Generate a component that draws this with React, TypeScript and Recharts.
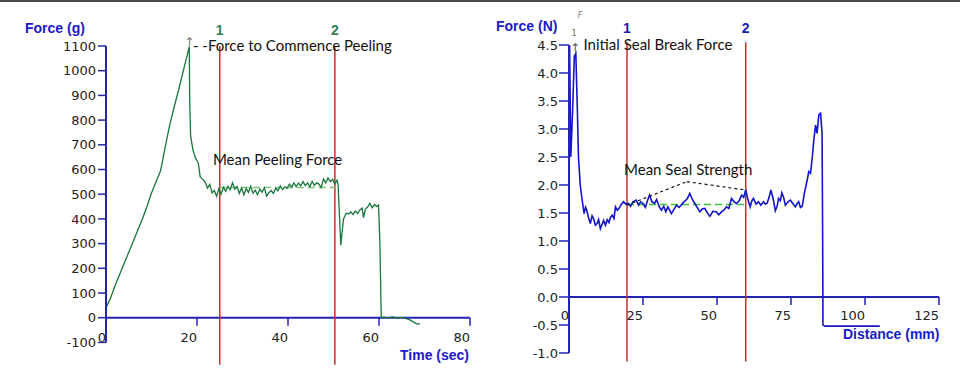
import React from 'react';
import {Line, LineChart, ReferenceDot, ReferenceLine, XAxis, YAxis} from 'recharts';

// left panel: peel test, force (g) over time (sec)
const leftTime = [
  0, 1, 2, 3, 4, 5, 6, 7, 8, 9,
  10, 11, 12, 13, 14, 15, 16, 17, 17.6, 18.3,
  18.4, 18.6, 19.1, 19.6, 20.3, 20.7, 21.3, 21.8, 22.3, 22.8,
  23.3, 23.8, 24.3, 24.8, 25.3, 25.8, 26.3, 26.8, 27.3, 27.8,
  28.3, 28.8, 29.3, 29.8, 30.3, 30.8, 31.3, 31.8, 32.3, 32.8,
  33.3, 33.8, 34.3, 34.8, 35.3, 35.8, 36.3, 36.8, 37.3, 37.8,
  38.3, 38.8, 39.3, 39.8, 40.3, 40.8, 41.3, 41.8, 42.3, 42.8,
  43.3, 43.8, 44.3, 44.8, 45.3, 45.8, 46.3, 46.8, 47.3, 47.8,
  48.3, 48.8, 49.3, 49.8, 50.3, 50.8, 51, 51.3, 51.6, 52.2,
  52.8, 53.3, 53.8, 54.3, 54.8, 55.3, 55.8, 56.3, 56.6, 57,
  57.5, 58, 58.5, 59, 59.5, 59.9, 60.2, 60.5, 61, 62,
  63, 64, 65, 66, 66.8, 67.6, 68.3, 69,
];
const leftForce = [
  40, 80, 130, 175, 220, 265, 310, 355, 400, 450,
  505, 550, 595, 690, 780, 855, 925, 1000, 1045, 1097,
  870, 735, 680, 650, 625, 570, 560, 548, 525, 540,
  505, 515, 492, 522, 500, 528, 512, 532, 518, 546,
  520, 532, 503, 526, 498, 522, 508, 532, 504, 516,
  498, 521, 508, 526, 492, 506, 515, 503, 524, 514,
  534, 519, 530, 524, 541, 529, 546, 531, 545, 534,
  551, 535, 546, 530, 552, 536, 546, 541, 527, 562,
  545, 566, 551, 560, 542, 557, 540, 420, 294, 400,
  423, 420, 428, 418, 432, 422, 436, 443, 405, 440,
  448, 463, 445, 458, 450, 456, 300, 0, 2, -1,
  3, -2, 1, -4, -9, -18, -25, -25,
];
const leftXTicks = [0, 20, 40, 60, 80];
const leftYTicks = [-100, 0, 100, 200, 300, 400, 500, 600, 700, 800, 900, 1000, 1100];
const leftMarkers = [25, 50.3];
const leftMeanForce = 527;

// right panel: seal strength, force (N) over distance (mm)
const rightDistance = [
  0, 0.2, 0.6, 1.2, 1.8, 2.3, 2.8, 3.2, 3.8, 4.3,
  5.1, 5.6, 6, 6.6, 7.2, 7.8, 8.3, 8.9, 9.5, 10,
  10.6, 11.2, 11.7, 12.3, 12.9, 13.5, 14, 14.6, 15.2, 15.7,
  16.3, 16.9, 17.5, 18.4, 19.2, 20, 20.8, 21.6, 22.7, 23.5,
  24.2, 25, 25.8, 26.5, 27.2, 28, 28.9, 29.6, 30.4, 31.2,
  32, 32.7, 33.4, 34, 34.6, 35.4, 36.3, 37.2, 38.5, 39.3,
  40, 40.8, 41.6, 42.5, 43.3, 44.2, 45, 45.9, 46.8, 47.6,
  48.6, 49.8, 50.6, 51.5, 52.3, 53.2, 54, 54.9, 55.8, 56.6,
  57.5, 58.3, 59, 59.7, 60.4, 61.2, 61.8, 62.3, 63.2, 64,
  64.8, 65.7, 66.3, 66.9, 67.6, 68.2, 69, 69.7, 70.3, 70.8,
  71.4, 71.9, 72.5, 73.1, 74, 74.8, 75.7, 76.5, 77, 77.6,
  78.2, 78.8, 79.5, 80.4, 81, 81.6, 82.2, 82.7, 83.3, 83.8,
  84.4, 85, 85.5, 85.7, 85.8, 86.5, 95, 105,
];
const rightForce = [
  1.5, 4.5, 2.5, 3.3, 4.3, 4.35, 3.4, 2.5, 2.0, 1.79,
  1.49, 1.6, 1.55, 1.42, 1.31, 1.45, 1.4, 1.28, 1.31, 1.38,
  1.22, 1.3, 1.37, 1.28, 1.38, 1.33, 1.42, 1.46, 1.4, 1.61,
  1.55, 1.58, 1.64, 1.7, 1.66, 1.67, 1.62, 1.7, 1.73, 1.64,
  1.7, 1.67, 1.6, 1.72, 1.82, 1.7, 1.67, 1.74, 1.62, 1.55,
  1.62, 1.52, 1.61, 1.55, 1.49, 1.56, 1.64, 1.6, 1.68, 1.72,
  1.76, 1.85, 1.75, 1.67, 1.6, 1.52, 1.57, 1.58, 1.5, 1.44,
  1.53, 1.52, 1.47, 1.52, 1.55, 1.61, 1.58, 1.76, 1.7, 1.67,
  1.72, 1.82, 1.78, 1.91, 1.75, 1.61, 1.72, 1.76, 1.66, 1.7,
  1.64, 1.7, 1.66, 1.67, 1.78, 1.91, 1.75, 1.54, 1.62, 1.76,
  1.72, 1.86, 1.78, 1.64, 1.7, 1.73, 1.66, 1.61, 1.66, 1.7,
  1.6, 1.62, 1.85, 2.07, 2.24, 2.21, 2.5, 2.8, 3.07, 2.92,
  3.25, 3.28, 2.92, 1.0, -0.5, -0.52, -0.52, -0.52,
];
const rightXTicks = [0, 25, 50, 75, 100, 125];
const rightYTicks = [-1, -0.5, 0, 0.5, 1, 1.5, 2, 2.5, 3, 3.5, 4, 4.5];
const rightMarkers = [19.6, 59.7];
const rightMeanForce = 1.65;
// dashed pointer lines from the "Mean Seal Strength" note
const rightPointerX = [19.5, 39.8, 59.7];
const rightPointerY = [1.64, 2.06, 1.91];

const leftData = leftTime.map((t, i) => ({t, force: leftForce[i]}));
const rightData = rightDistance.map((d, i) => ({d, force: rightForce[i]}));

const W = 480;
const H = 380;
const AXIS_BLUE = '#2323b4';
const TITLE_BLUE = '#1a1ac8';
const RED = '#c0302a';
const TICK_FONT = 'DejaVu Sans';
const NOTE_FONT = 'Lato';

const L_MARGIN = {top: 46, right: 10, bottom: 7.6, left: 46};
const L_XH = 30;
const L_PLOT_H = H - L_MARGIN.top - L_MARGIN.bottom - L_XH;
const L_SHIFT = (L_PLOT_H * 100) / 1200;

const R_MARGIN = {top: 45, right: 21, bottom: 7, left: 39};
const R_XH = 20;
const R_PLOT_H = H - R_MARGIN.top - R_MARGIN.bottom - R_XH;
const R_SHIFT = (R_PLOT_H * 1) / 5.5;

// x ticks drawn on the zero line instead of the bottom of the plot
const ZeroTick = (props: any) => {
  const {x, y, payload, shift, down} = props;
  const y0 = y - shift;
  return (
    <g>
      <line x1={x} x2={x} y1={y0} y2={y0 + 8} stroke={AXIS_BLUE} strokeWidth={1.5} />
      <text x={x} y={y0 + down} textAnchor="end" fill="#222" fontSize={13} fontFamily={TICK_FONT}>
        {payload.value}
      </text>
    </g>
  );
};

const note = (value: string, extra: any = {}) => ({
  value,
  position: 'right',
  offset: 0,
  fill: '#111',
  fontSize: 15,
  fontFamily: NOTE_FONT,
  ...extra,
});

const title: React.CSSProperties = {
  position: 'absolute',
  color: TITLE_BLUE,
  fontFamily: 'Liberation Sans',
  fontWeight: 'bold',
  fontSize: 14,
  lineHeight: '16px',
  whiteSpace: 'nowrap',
};

const App = () => {
  return (
    <div style={{position: 'absolute', left: 0, top: 0, width: 960, height: 380, background: '#fff', overflow: 'hidden'}}>
      <div style={{position: 'absolute', left: 0, top: 0, width: 960, height: 2, background: '#4a4a4a'}} />

      <div style={{position: 'absolute', left: 0, top: 0}}>
        <LineChart width={W} height={H} data={leftData} margin={L_MARGIN}>
          <XAxis
            dataKey="t"
            type="number"
            domain={[0, 80]}
            ticks={leftXTicks}
            interval={0}
            height={L_XH}
            axisLine={false}
            tickLine={false}
            tickSize={0}
            tickMargin={0}
            tick={(p: any) => <ZeroTick {...p} shift={L_SHIFT} down={24} />}
          />
          <YAxis
            type="number"
            domain={[-100, 1100]}
            ticks={leftYTicks}
            interval={0}
            width={60}
            axisLine={{stroke: AXIS_BLUE, strokeWidth: 2}}
            tickLine={{stroke: AXIS_BLUE, strokeWidth: 1.5}}
            tickSize={8}
            tickMargin={2}
            tick={{fill: '#222', fontSize: 13, fontFamily: TICK_FONT}}
          />
          <ReferenceLine y={0} stroke={AXIS_BLUE} strokeWidth={2} />
          {leftMarkers.map((m, i) => (
            <ReferenceLine
              key={`lm-${i}`}
              segment={[{x: m, y: 1100}, {x: m, y: -190}]}
              ifOverflow="visible"
              stroke={RED}
              strokeWidth={1.5}
            />
          ))}
          {leftMarkers.map((m, i) => (
            <ReferenceDot
              key={`ln-${i}`}
              x={m}
              y={1100}
              r={0}
              fill="none"
              stroke="none"
              label={{value: String(i + 1), position: 'top', offset: 11, fill: '#2f7f4f', fontSize: 14, fontWeight: 'bold', fontFamily: 'Liberation Sans'}}
            />
          ))}
          <ReferenceLine
            segment={[{x: leftMarkers[0], y: leftMeanForce}, {x: leftMarkers[1], y: leftMeanForce}]}
            stroke="#7cc47c"
            strokeWidth={1.5}
            strokeDasharray="7 4"
          />
          <Line type="linear" dataKey="force" stroke="#17773d" strokeWidth={1.3} dot={false} isAnimationActive={false} />
          <ReferenceDot x={18.3} y={1100} r={0} fill="none" stroke="none" label={{value: '↑', position: 'top', offset: 0, fill: '#777', fontSize: 12, fontFamily: TICK_FONT}} />
          <ReferenceDot x={19.1} y={1100} r={0} fill="none" stroke="none" label={note('- -Force to Commence Peeling')} />
          <ReferenceDot x={23.5} y={638} r={0} fill="none" stroke="none" label={note('Mean Peeling Force')} />
        </LineChart>
      </div>

      <div style={{position: 'absolute', left: 480, top: 0}}>
        <LineChart width={W} height={H} data={rightData} margin={R_MARGIN}>
          <XAxis
            dataKey="d"
            type="number"
            domain={[0, 125]}
            ticks={rightXTicks}
            interval={0}
            height={R_XH}
            axisLine={false}
            tickLine={false}
            tickSize={0}
            tickMargin={0}
            tick={(p: any) => <ZeroTick {...p} shift={R_SHIFT} down={23} />}
          />
          <YAxis
            type="number"
            domain={[-1, 4.5]}
            ticks={rightYTicks}
            interval={0}
            width={50}
            axisLine={{stroke: AXIS_BLUE, strokeWidth: 2}}
            tickLine={{stroke: AXIS_BLUE, strokeWidth: 1.5}}
            tickSize={10}
            tickMargin={1}
            tickFormatter={(v: number) => v.toFixed(1)}
            tick={{fill: '#222', fontSize: 13, fontFamily: TICK_FONT}}
          />
          <ReferenceLine y={0} stroke={AXIS_BLUE} strokeWidth={2} />
          {rightMarkers.map((m, i) => (
            <ReferenceLine
              key={`rm-${i}`}
              segment={[{x: m, y: 4.55}, {x: m, y: -1.15}]}
              ifOverflow="visible"
              stroke={RED}
              strokeWidth={1.5}
            />
          ))}
          {rightMarkers.map((m, i) => (
            <ReferenceDot
              key={`rn-${i}`}
              x={m}
              y={4.5}
              r={0}
              fill="none"
              stroke="none"
              label={{value: String(i + 1), position: 'top', offset: 12, fill: '#1a1ab0', fontSize: 14, fontWeight: 'bold', fontFamily: 'Liberation Sans'}}
            />
          ))}
          <ReferenceLine
            segment={[{x: rightMarkers[0], y: rightMeanForce}, {x: rightMarkers[1], y: rightMeanForce}]}
            stroke="#3cc43c"
            strokeWidth={1.5}
            strokeDasharray="7 4"
          />
          <Line type="linear" dataKey="force" stroke="#1414c8" strokeWidth={1.6} dot={false} isAnimationActive={false} />
          {rightPointerX.slice(1).map((x, i) => (
            <ReferenceLine
              key={`rp-${i}`}
              segment={[{x: rightPointerX[i], y: rightPointerY[i]}, {x, y: rightPointerY[i + 1]}]}
              stroke="#111"
              strokeWidth={1.2}
              strokeDasharray="3 3"
            />
          ))}
          <ReferenceDot x={1.7} y={4.5} r={0} fill="none" stroke="none" label={{value: '1', position: 'top', offset: 9, fill: '#777', fontSize: 9, fontFamily: TICK_FONT}} />
          <ReferenceDot x={3.7} y={4.5} r={0} fill="none" stroke="none" label={{value: 'F', position: 'top', offset: 27, fill: '#777', fontSize: 8, fontStyle: 'italic', fontFamily: TICK_FONT}} />
          <ReferenceDot x={2} y={4.5} r={0} fill="none" stroke="none" label={{value: '↑', position: 'top', offset: -7, fill: '#555', fontSize: 12, fontFamily: TICK_FONT}} />
          <ReferenceDot x={4.9} y={4.5} r={0} fill="none" stroke="none" label={note('Initial Seal Break Force')} />
          <ReferenceDot x={18.6} y={2.28} r={0} fill="none" stroke="none" label={note('Mean Seal Strength')} />
        </LineChart>
      </div>

      <div style={{...title, left: 25, top: 20}}>Force (g)</div>
      <div style={{...title, left: 496, top: 18}}>Force (N)</div>
      <div style={{...title, left: 400, top: 347}}>Time (sec)</div>
      <div style={{...title, left: 843, top: 326}}>Distance (mm)</div>
    </div>
  );
};

export default App;
